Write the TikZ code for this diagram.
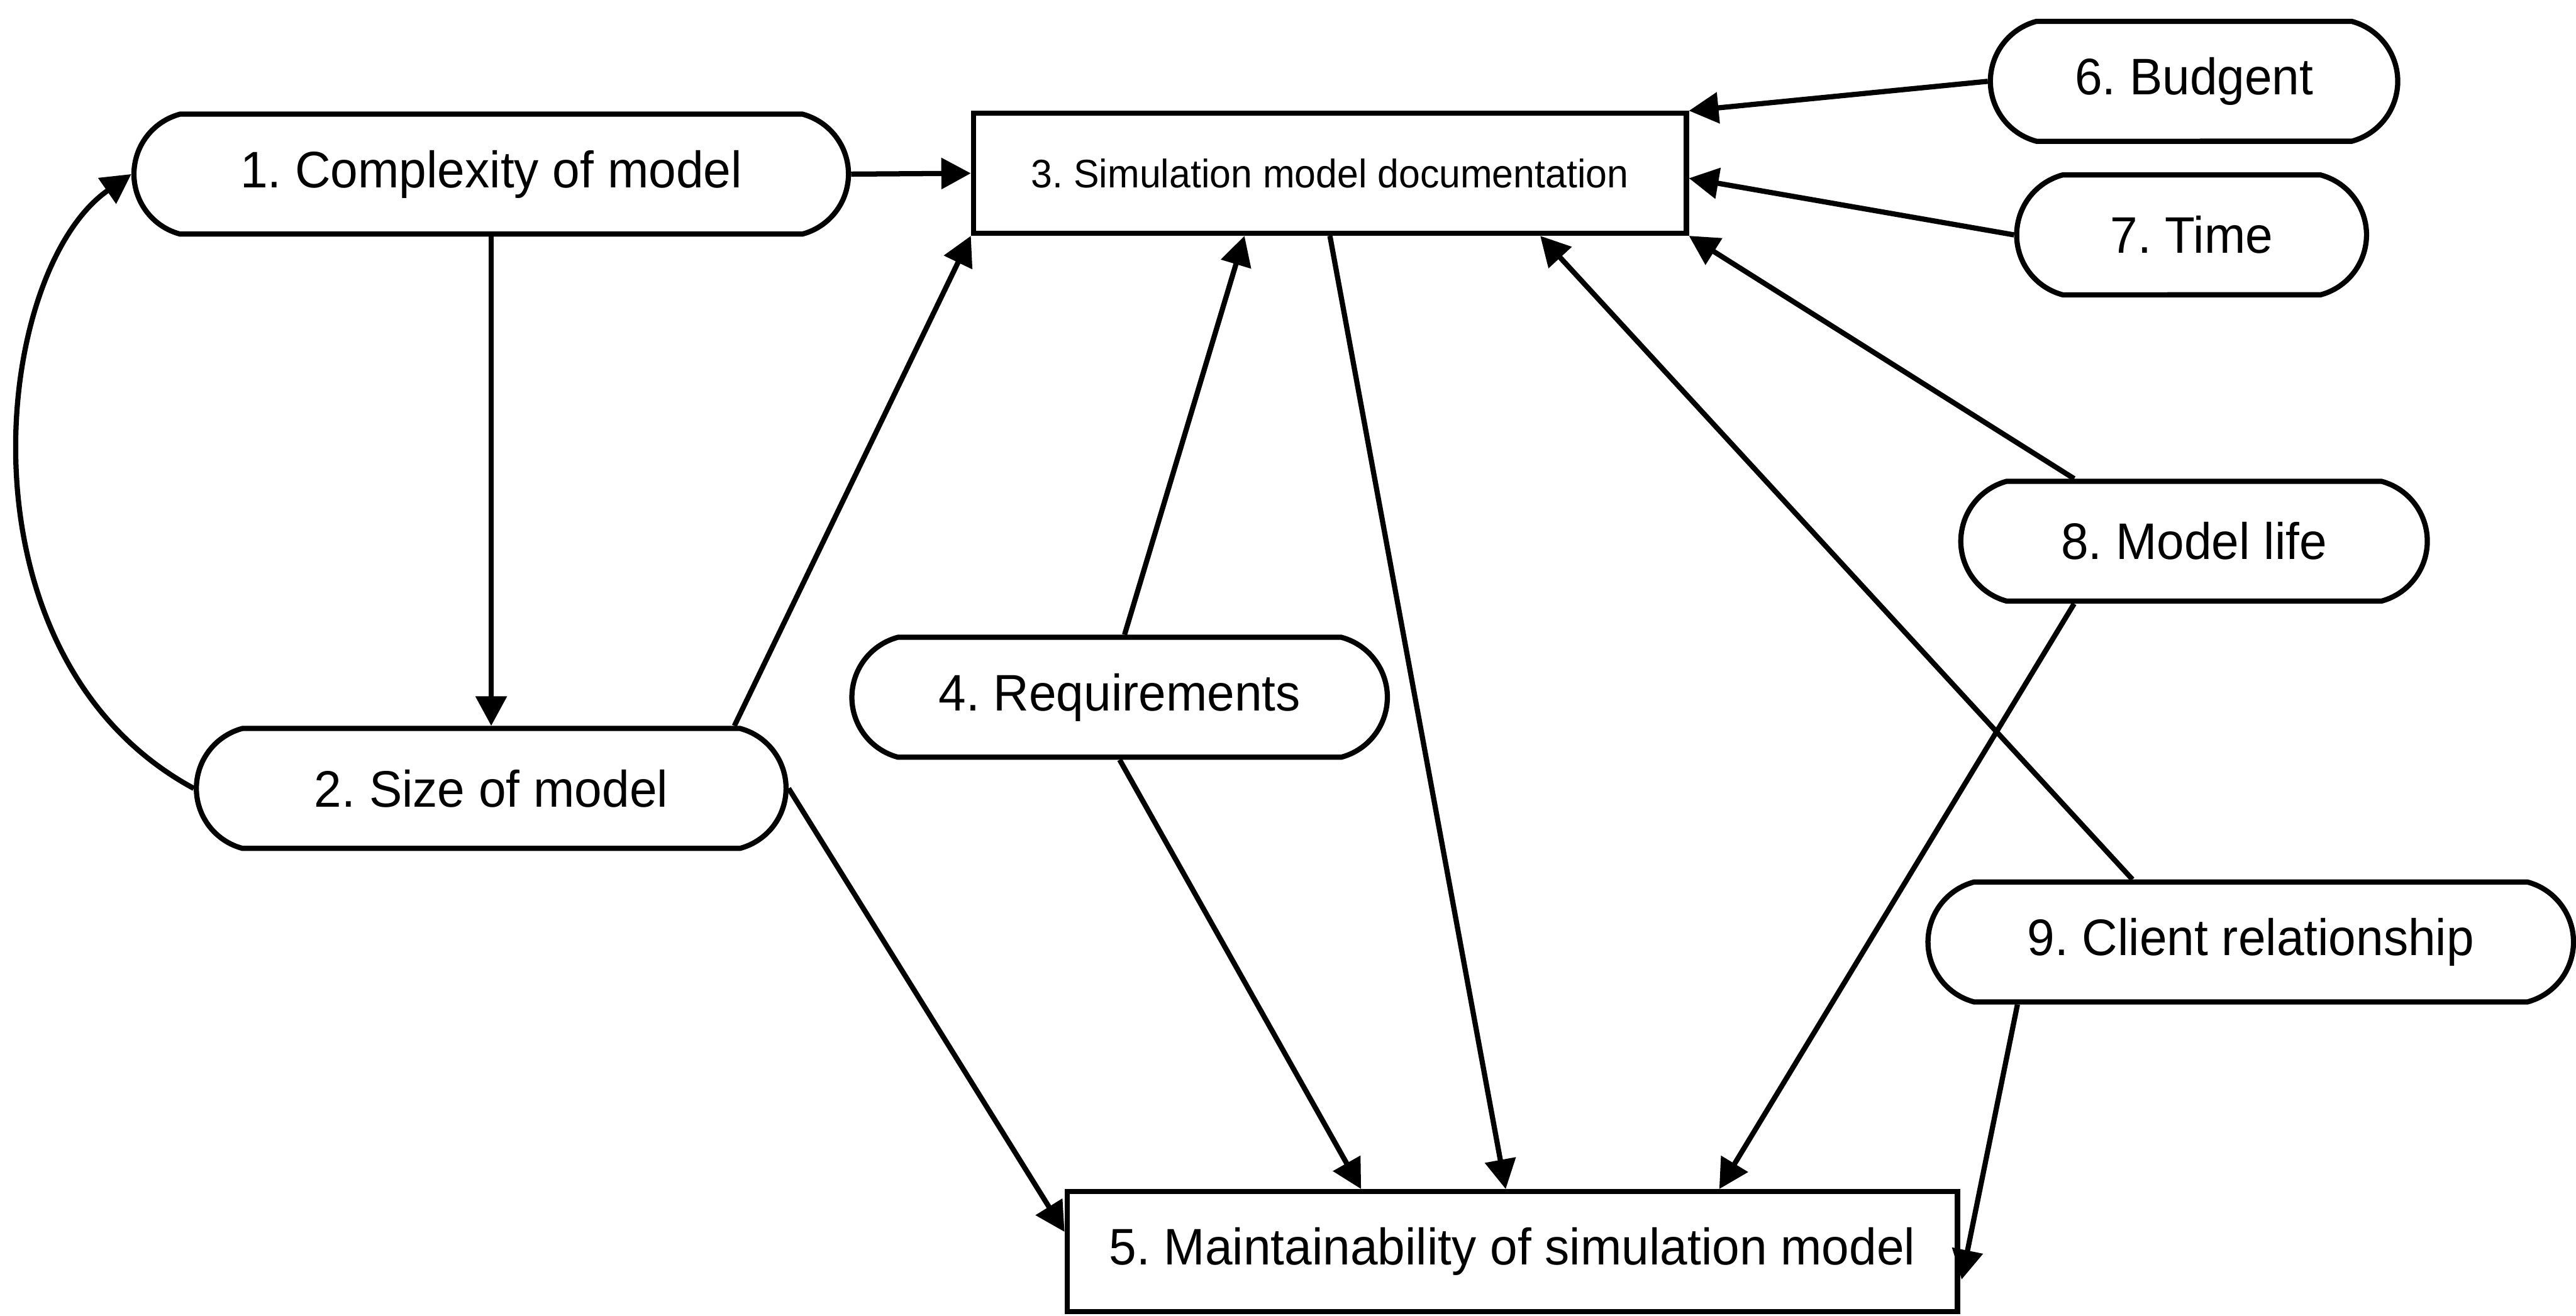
\documentclass[tikz,border=0pt]{standalone}
\usepackage{fontspec}
\setmainfont{Liberation Sans}[FakeStretch=0.96]
\usetikzlibrary{shapes.misc,arrows.meta,calc}

\begin{document}
\frenchspacing
\begin{tikzpicture}[x=0.02cm,y=-0.02cm,line width=1.8pt,
  factor/.style={draw, rounded rectangle, rounded rectangle arc length=150,
    inner sep=0pt, minimum height=1.46cm, font=\fontsize{17.8}{20}\selectfont},
  stage/.style={draw, rectangle, inner sep=0pt, minimum height=1.46cm},
  link/.style={-{Triangle[length=0.36cm,width=0.37cm]}, line width=1.8pt}]
\useasboundingbox (0,0) rectangle (1568,801);

% factors (rounded) and documentation / maintainability stages (boxes)
\node[factor, minimum width=8.70cm] (n1) at (299,106) {1. Complexity of model};
\node[factor, minimum width=7.18cm] (n2) at (299,480) {2. Size of model};
\node[stage, minimum width=8.68cm, font=\fontsize{13.8}{16}\selectfont] (n3) at (809.5,105.5) {3. Simulation model documentation};
\node[factor, minimum width=6.52cm] (n4) at (681.5,424.5) {4. Requirements};
\node[stage, minimum width=10.84cm, font=\fontsize{17.8}{20}\selectfont] (n5) at (920.5,762) {5. Maintainability of simulation model};
\node[factor, minimum width=4.96cm] (n6) at (1335.5,49.5) {6. Budgent};
\node[factor, minimum width=4.26cm] (n7) at (1334,143) {7. Time};
\node[factor, minimum width=5.68cm] (n8) at (1335.5,329.5) {8. Model life};
\node[factor, minimum width=7.86cm] (n9) at (1370,573.5) {9. Client relationship};

% influences
\draw[link] (n1.east) -- (n3.west);
\draw[link] (n1.south) -- (n2.north);
\draw[link] (n2.west) .. controls (-30,400) and (-5,165) .. (n1.west);
\draw[link] ($(n2.north)+(148,0)$) -- (n3.south west);
\draw[link] (n2.east) -- ($(n5.west)+(0,-12)$);
\draw[link] ($(n4.north)+(3,0)$) -- ($(n3.south)+(-52,0)$);
\draw[link] (n4.south) -- ($(n5.north)+(-92,0)$);
\draw[link] (n3.south) -- ($(n5.north)+(-4,0)$);
\draw[link] (n6.west) -- (n3.north east);
\draw[link] (n7.west) -- ($(n3.east)+(0,3)$);
\draw[link] ($(n8.north)+(-73,0)$) -- (n3.south east);
\draw[link] ($(n9.north)+(-72,0)$) -- ($(n3.south)+(128,0)$);
\draw[link] ($(n8.south)+(-73,0)$) -- ($(n5.north)+(126,0)$);
\draw[link] ($(n9.south)+(-142,0)$) -- ($(n5.east)+(1,17)$);
\end{tikzpicture}
\end{document}
